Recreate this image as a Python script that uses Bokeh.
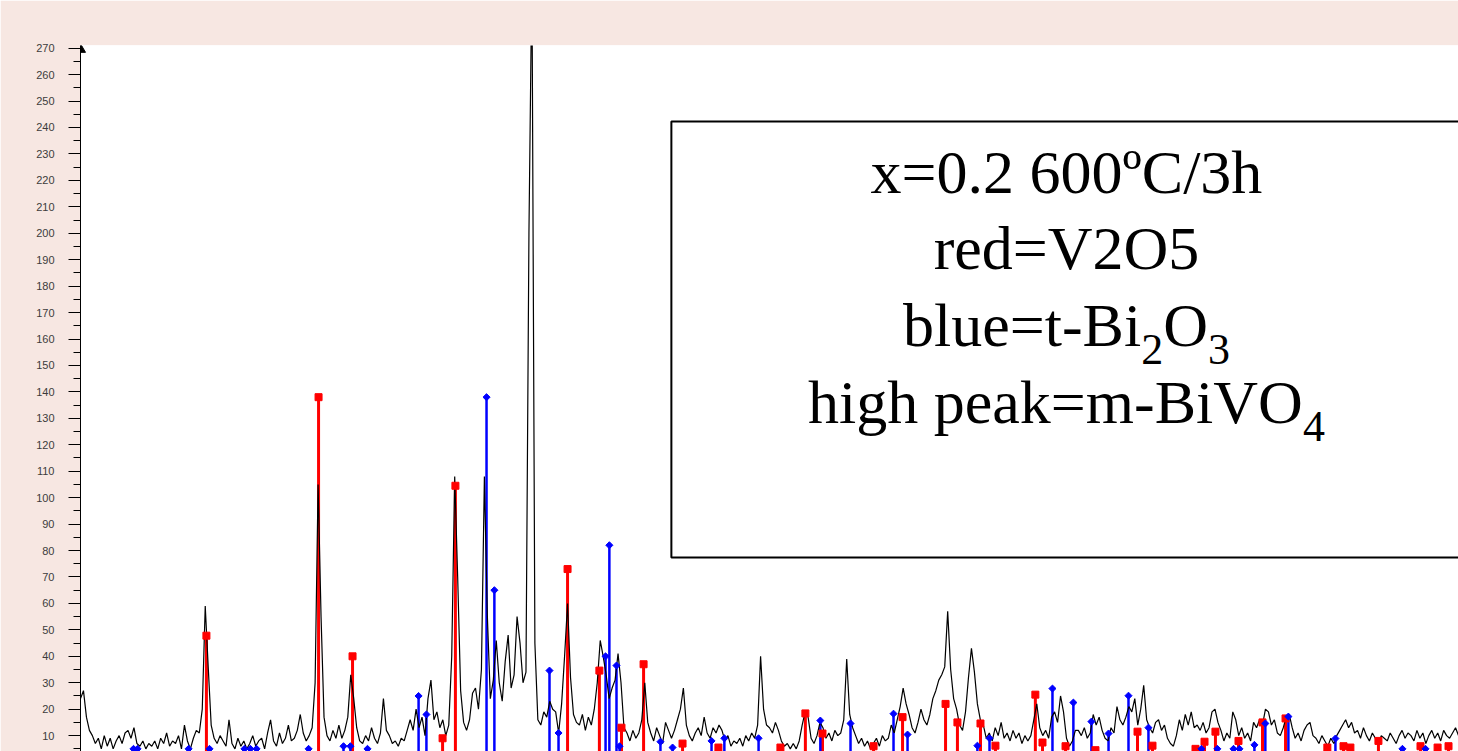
from bokeh.plotting import figure
from bokeh.models import Label, BoxAnnotation, SingleIntervalTicker, Range1d
from bokeh.embed import file_html
from bokeh.resources import INLINE

# ---- measured XRD scan (2-theta step scan) ----
two_theta_start = 10.0
two_theta_step = 0.125
intensity = [
    24, 27, 17, 12, 10, 7, 9, 5,
    10, 6, 9, 5, 8, 10, 7, 11,
    12, 9, 13, 7, 6, 8, 5, 7,
    6, 8, 5, 9, 7, 11, 6, 8,
    7, 10, 5, 14, 8, 5, 9, 12,
    11, 20, 59, 36, 14, 9, 7, 10,
    8, 6, 16, 7, 5, 9, 6, 8,
    5, 7, 10, 6, 8, 9, 5, 11,
    16, 8, 6, 11, 7, 9, 14, 8,
    9, 12, 18, 11, 8, 10, 13, 30,
    105, 55, 17, 10, 8, 12, 9, 14,
    9, 12, 17, 33, 24, 13, 8, 7,
    10, 8, 13, 9, 7, 11, 24, 12,
    10, 7, 8, 6, 9, 8, 12, 16,
    12, 20, 13, 17, 10, 24, 31, 16,
    19, 13, 16, 10, 14, 40, 108, 70,
    27, 15, 12, 16, 26, 28, 20, 35,
    108, 55, 24, 31, 46, 30, 23, 38,
    48, 28, 33, 55, 45, 30, 34, 200,
    300, 45, 16, 14, 19, 17, 23, 20,
    19, 11, 22, 40, 60, 32, 18, 15,
    14, 18, 12, 17, 14, 20, 30, 46,
    40, 33, 24, 28, 31, 41, 30, 13,
    11, 8, 12, 9, 11, 16, 30, 15,
    11, 8, 13, 10, 7, 15, 12, 9,
    12, 16, 20, 28, 14, 10, 8, 11,
    13, 10, 17, 11, 9, 13, 11, 14,
    12, 8, 10, 6, 8, 7, 9, 6,
    10, 8, 11, 9, 14, 40, 20, 14,
    13, 11, 15, 12, 8, 6, 7, 5,
    7, 5, 8, 14, 19, 17, 9, 7,
    10, 15, 13, 9, 11, 8, 12, 10,
    11, 16, 39, 18, 13, 10, 7, 9,
    6, 8, 5, 7, 9, 6, 10, 8,
    9, 14, 11, 16, 21, 28, 22, 18,
    13, 11, 15, 20, 16, 14, 18, 24,
    27, 31, 33, 36, 57, 35, 24, 20,
    14, 12, 19, 32, 43, 34, 22, 16,
    14, 9, 11, 8, 13, 10, 15, 9,
    11, 8, 12, 9, 11, 7, 10, 8,
    10, 16, 22, 13, 10, 12, 9, 17,
    19, 15, 25, 19, 9, 6, 8, 12,
    12, 10, 13, 9, 11, 18, 14, 17,
    12, 9, 8, 13, 11, 21, 16, 14,
    17, 21, 19, 24, 14, 20, 29, 16,
    13, 11, 15, 16, 12, 14, 9, 7,
    6, 10, 16, 12, 18, 14, 19, 13,
    14, 12, 15, 11, 13, 19, 20, 15,
    12, 8, 11, 9, 19, 16, 10, 13,
    9, 11, 8, 15, 13, 16, 14, 20,
    19, 14, 16, 11, 10, 13, 17, 18,
    13, 9, 11, 8, 12, 14, 15, 10,
    9, 7, 10, 8, 6, 9, 7, 10,
    12, 14, 16, 13, 15, 11, 12, 9,
    13, 10, 8, 11, 9, 7, 10, 9,
    8, 11, 9, 7, 10, 12, 9, 11,
    10, 8, 12, 9, 11, 7, 10, 12,
    9, 11, 8, 12, 10, 9, 11, 13,
    10,
]
two_theta = [round(two_theta_start + two_theta_step * i, 3) for i in range(len(intensity))]

# ---- reference patterns (stick lines) ----
v2o5_2theta = [15.30, 20.02, 21.45, 25.24, 25.78, 30.50, 31.84, 32.77, 33.70, 35.34,
               36.85, 39.46, 40.51, 41.23, 43.38, 44.60, 46.41, 46.91, 47.88, 48.51,
               50.19, 50.49, 51.46, 52.72, 54.49, 55.12, 56.93, 57.31, 57.77, 58.74,
               59.75, 60.72, 62.48, 63.16, 63.45, 64.63, 66.40, 67.12, 67.58]
v2o5_int = [47.8, 138, 40, 9, 104.5, 73, 34.6, 13, 37, 7,
            5.5, 5.5, 18.4, 10.8, 6, 17, 22, 15, 14.6, 6.2,
            25.5, 7.4, 6, 4.5, 11.5, 6.2, 5, 7.7, 11.5, 8,
            15, 16.5, 5.5, 6, 5.5, 8, 6, 5.5, 6]

bi2o3_2theta = [12.23, 12.40, 14.55, 15.43, 16.90, 17.15, 17.41, 19.60, 21.07, 21.36,
                22.08, 24.23, 24.56, 27.09, 27.42, 29.74, 30.12, 32.10, 32.26, 32.56,
                32.69, 34.41, 34.92, 36.56, 37.10, 38.54, 41.14, 42.41, 44.22, 44.81,
                47.75, 48.26, 50.91, 51.79, 52.55, 53.27, 54.11, 54.95, 57.18, 57.85,
                58.53, 58.78, 59.41, 59.87, 60.84, 62.82, 65.64, 66.61]
bi2o3_int = [5, 5, 5, 5, 5, 5, 5, 5, 6, 6,
             5, 25, 18, 138, 65, 34.6, 11, 40, 82, 36.5,
             6, 7.7, 5.5, 8, 9, 9, 15.7, 14.6, 18.3, 10.4,
             6.2, 9, 27.8, 22.5, 15.3, 10.8, 25.1, 13, 5, 5,
             5, 5, 6.5, 14.6, 17.2, 8.9, 5, 5]

y_ticks_interval = 10

x_min, x_max = 10.0, 68.0
y_min, y_max = 4, 271

W, H = 1458, 751
p = figure(width=W, height=H,
           x_range=Range1d(x_min, x_max), y_range=Range1d(y_min, y_max),
           x_axis_type=None, output_backend="svg", toolbar_location=None,
           min_border_left=80, min_border_right=0, min_border_top=45, min_border_bottom=0)
p.border_fill_color = "#f7e7e2"
p.background_fill_color = "white"
p.outline_line_color = None
p.ygrid.visible = False

# white panel behind the axis (the window area of the original program)
p.add_layout(BoxAnnotation(left=27, right=W, top=37, bottom=H,
                           left_units="canvas", right_units="canvas",
                           top_units="canvas", bottom_units="canvas",
                           fill_color="white", fill_alpha=1.0, line_color=None,
                           level="underlay"))

ax = p.yaxis[0]
ax.ticker = SingleIntervalTicker(interval=y_ticks_interval, num_minor_ticks=2)
ax.axis_line_color = "black"
ax.axis_line_width = 1
ax.major_tick_in = 0
ax.major_tick_out = 12
ax.minor_tick_in = 0
ax.minor_tick_out = 7
ax.major_tick_line_color = "black"
ax.minor_tick_line_color = "black"
ax.major_label_text_font = "Liberation Sans"
ax.major_label_text_font_size = "11px"
ax.major_label_text_color = "#3c3c3c"
ax.major_label_standoff = 14

# stick patterns
p.segment(x0=v2o5_2theta, y0=0, x1=v2o5_2theta, y1=v2o5_int,
          line_color="#ff0000", line_width=3)
p.segment(x0=bi2o3_2theta, y0=0, x1=bi2o3_2theta, y1=bi2o3_int,
          line_color="#0000ff", line_width=2.5)

# measured pattern
p.line(two_theta, intensity, line_color="black", line_width=1.2)

p.scatter(v2o5_2theta, v2o5_int, marker="square", size=7,
          fill_color="#ff0000", line_color="#ff0000")
p.scatter(bi2o3_2theta, bi2o3_int, marker="square", angle=0.785398, size=5,
          fill_color="#0000ff", line_color="#0000ff")

# arrow head at top of the axis
p.scatter([x_min], [269.5], marker="triangle", size=10,
          fill_color="black", line_color="black")

# legend box
p.quad(left=34.87, right=x_max + 2, bottom=77.35, top=242.25,
       fill_color=None, line_color="black", line_width=2)

cx = 51.5
font = "Liberation Serif"
fs = "62px"
fs_sub = "44px"

def lab(x, y, text, size, align="left", xoff=0):
    p.add_layout(Label(x=x, y=y, x_offset=xoff, text=text, text_align=align,
                       text_baseline="alphabetic", text_font=font,
                       text_font_size=size, text_color="black"))

lab(cx, 223.2, "x=0.2 600ºC/3h", fs, "center")
lab(cx, 194.4, "red=V2O5", fs, "center")
# blue=t-Bi2O3
lab(cx, 165.3, "blue=t-Bi", fs, "left", -163.5)
lab(cx, 155.9, "2", fs_sub, "left", 74.7)
lab(cx, 165.3, "O", fs, "left", 96.7)
lab(cx, 155.9, "3", fs_sub, "left", 141.5)
# high peak=m-BiVO4
lab(cx, 136.2, "high peak=m-BiVO", fs, "left", -258.4)
lab(cx, 126.8, "4", fs_sub, "left", 236.4)

open("out.html", "w").write(file_html(p, INLINE))
